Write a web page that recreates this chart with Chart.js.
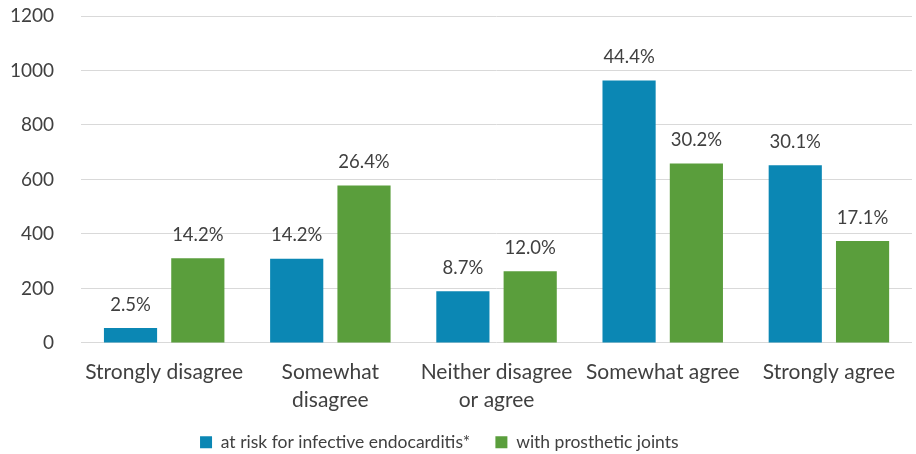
<!DOCTYPE html>
<html>
<head>
<meta charset="utf-8">
<script src="https://cdn.jsdelivr.net/npm/chart.js@4"></script>
<style>
    html, body { margin: 0; padding: 0; background: #fff; }
    #wrap { width: 916px; height: 454px; }
</style>
</head>
<body>
<div id="wrap"><canvas id="chart"></canvas></div>
<script>
(function () {
    'use strict';

    var categories = [
        'Strongly disagree',
        ['Somewhat', 'disagree'],
        ['Neither disagree', 'or agree'],
        'Somewhat agree',
        'Strongly agree'
    ];
    var seriesNames = ['at risk for infective endocarditis*', 'with prosthetic joints'];
    var endocarditisCounts = [55, 309, 190, 963, 652];
    var prostheticCounts = [311, 578, 263, 659, 374];
    var endocarditisPct = ['2.5%', '14.2%', '8.7%', '44.4%', '30.1%'];
    var prostheticPct = ['14.2%', '26.4%', '12.0%', '30.2%', '17.1%'];

    var FONT = 'Lato, "Noto Sans", sans-serif';
    var TEXT = '#404040';

    // draws the percentage above each bar
    var pctLabels = {
        id: 'pctLabels',
        afterDatasetsDraw: function (chart) {
            var ctx = chart.ctx;
            var labelSets = [endocarditisPct, prostheticPct];
            ctx.save();
            ctx.font = '18.5px ' + FONT;
            ctx.fillStyle = TEXT;
            ctx.textAlign = 'center';
            ctx.textBaseline = 'bottom';
            chart.data.datasets.forEach(function (ds, di) {
                var meta = chart.getDatasetMeta(di);
                meta.data.forEach(function (bar, i) {
                    ctx.fillText(labelSets[di][i], bar.x, bar.y - 14);
                });
            });
            ctx.restore();
        }
    };

    new Chart(document.getElementById('chart'), {
        type: 'bar',
        data: {
            labels: categories,
            datasets: [
                {
                    label: seriesNames[0],
                    data: endocarditisCounts,
                    backgroundColor: '#0B87B4'
                },
                {
                    label: seriesNames[1],
                    data: prostheticCounts,
                    backgroundColor: '#5A9E3C'
                }
            ]
        },
        options: {
            responsive: true,
            maintainAspectRatio: false,
            animation: false,
            categoryPercentage: 0.81,
            barPercentage: 0.79,
            layout: { padding: { top: 16, right: 4, left: 6, bottom: -7 } },
            plugins: {
                legend: {
                    position: 'bottom',
                    labels: {
                        color: TEXT,
                        font: { family: FONT, size: 17.5 },
                        boxWidth: 12,
                        boxHeight: 12,
                        padding: 12,
                        generateLabels: function (chart) {
                            var items = Chart.defaults.plugins.legend.labels.generateLabels(chart);
                            // extra room between the entries, and nudge the block left
                            items[0].text = items[0].text + '\u2003';
                            items[1].text = items[1].text + '\u2003\u2003\u2003';
                            return items;
                        }
                    }
                },
                tooltip: { enabled: false }
            },
            scales: {
                x: {
                    grid: { display: false },
                    border: { display: false },
                    ticks: {
                        color: TEXT,
                        font: { family: FONT, size: 21, lineHeight: 1.3 },
                        maxRotation: 0,
                        autoSkip: false,
                        padding: 8
                    }
                },
                y: {
                    min: 0,
                    max: 1200,
                    ticks: {
                        stepSize: 200,
                        color: TEXT,
                        font: { family: FONT, size: 19 },
                        padding: 4,
                        callback: function (v) { return String(v); }
                    },
                    grid: { color: '#d9d9d9', tickLength: 23, tickColor: 'rgba(0,0,0,0)' },
                    border: { display: false }
                }
            }
        },
        plugins: [pctLabels]
    });
})();
</script>
</body>
</html>
